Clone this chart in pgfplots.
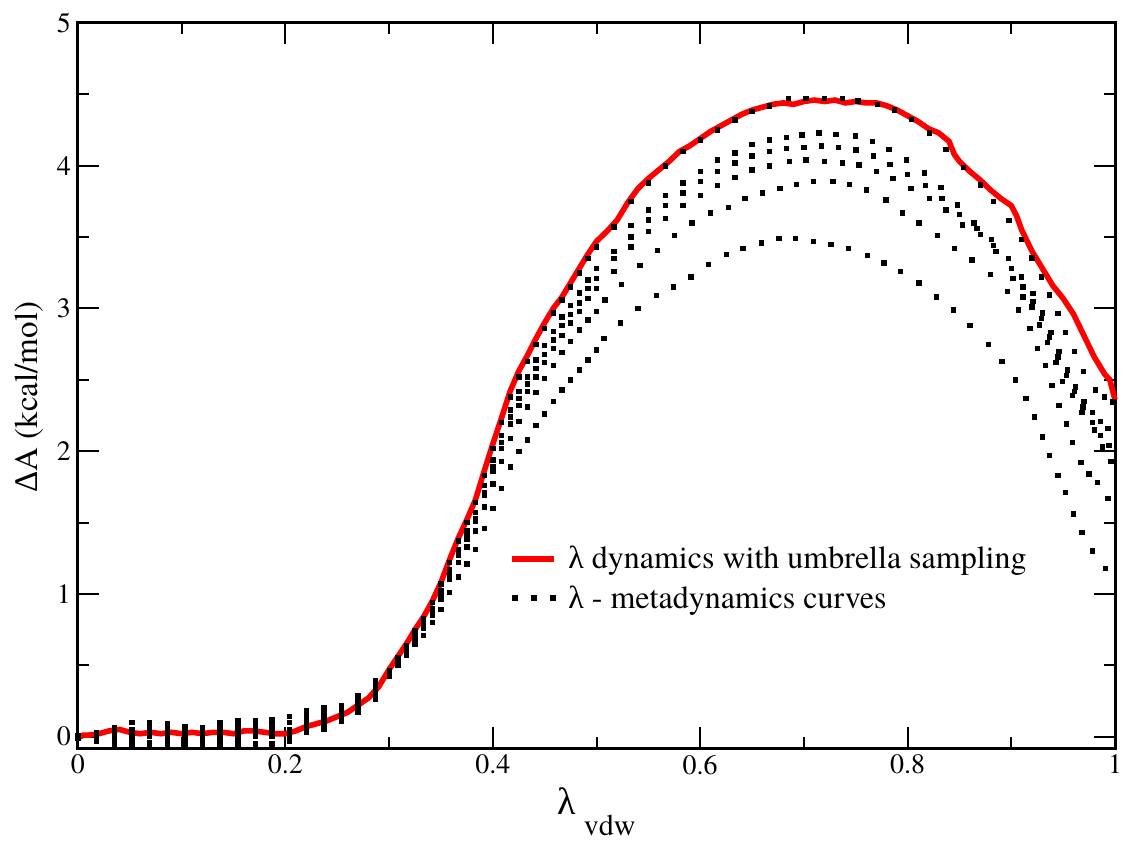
\documentclass[border=0pt]{standalone}
\usepackage{fontspec}
\IfFontExistsTF{TeX Gyre Termes}{\setmainfont{TeX Gyre Termes}}{\setmainfont{Liberation Serif}}
\newfontfamily\greek{Liberation Serif}
\usepackage{pgfplots}
\pgfplotsset{compat=1.18}
\begin{document}
\begin{tikzpicture}
\useasboundingbox (-39pt,-46pt) rectangle (522.5pt,374pt);
\begin{axis}[
 scale only axis, width=518.5pt, height=362.5pt,
 xmin=0, xmax=1, ymin=-0.08, ymax=5,
 xtick={0,0.2,0.4,0.6,0.8,1}, ytick={0,1,2,3,4,5},
 minor x tick num=1, minor y tick num=1,
 tick align=inside, major tick length=10.5pt, minor tick length=5.5pt,
 axis line style={line width=1.5pt},
 tick style={black, line width=1pt},
 /pgf/number format/assume math mode=true,
 ticklabel style={font=\fontsize{14}{14}\selectfont},
 clip=false,
 ylabel={{\greek Δ}A (kcal/mol)},
 ylabel style={at={(axis description cs:-0.0395,0.484)}, anchor=base, font=\fontsize{16.5}{16.5}\selectfont},
 xlabel={\fontsize{19}{19}\selectfont {\greek λ}\hspace{4pt}\raisebox{-10.5pt}{\fontsize{15}{15}\selectfont vdw}},
 xlabel style={at={(axis description cs:0.5,-0.0924)}, anchor=base},
 legend style={draw=none, fill=none, at={(rel axis cs:0.410,0.290)}, anchor=north west,
   font=\fontsize{16}{19}\selectfont, row sep=2.9pt},
 legend cell align=left,
 mscat/.style={only marks, mark=square*, mark size=1.1pt, black, mark options={fill=black}},
]
\addplot[red, line width=2.8pt, mark=none,
 legend image code/.code={\draw[red, line width=2.8pt] (0pt,0pt) -- (21pt,0pt); \path[draw=none] (0pt,0pt) -- (26pt,0pt);}] coordinates {
(0.000,-0.01)(0.005,0.01)(0.010,0.01)(0.020,0.02)(0.030,0.04)(0.040,0.05)(0.050,0.03)(0.060,0.02)
(0.070,0.03)(0.080,0.02)(0.090,0.03)(0.100,0.02)(0.110,0.03)(0.120,0.02)(0.130,0.03)(0.140,0.03)
(0.150,0.02)(0.160,0.04)(0.170,0.04)(0.180,0.03)(0.190,0.02)(0.200,0.02)(0.210,0.04)(0.220,0.07)
(0.230,0.09)(0.240,0.11)(0.250,0.14)(0.260,0.17)(0.270,0.22)(0.280,0.27)(0.290,0.35)(0.300,0.47)
(0.3083,0.56)(0.3167,0.65)(0.3250,0.75)(0.3333,0.84)(0.3417,0.95)(0.3500,1.08)(0.3583,1.24)
(0.3667,1.39)(0.3750,1.52)(0.3833,1.66)(0.3917,1.86)(0.4000,2.05)(0.4083,2.23)(0.4167,2.42)
(0.4250,2.56)(0.4333,2.67)(0.4417,2.79)(0.4500,2.90)(0.4583,3.00)(0.4667,3.08)(0.4750,3.18)
(0.4833,3.28)(0.4917,3.38)(0.5000,3.47)(0.51,3.54)(0.52,3.62)(0.53,3.74)(0.54,3.84)(0.55,3.91)
(0.56,3.97)(0.57,4.03)(0.58,4.10)(0.59,4.14)(0.60,4.19)(0.61,4.24)(0.62,4.28)(0.63,4.32)(0.64,4.36)
(0.65,4.39)(0.66,4.41)(0.67,4.43)(0.68,4.44)(0.69,4.43)(0.70,4.45)(0.71,4.46)(0.72,4.45)(0.73,4.46)
(0.74,4.44)(0.75,4.45)(0.76,4.44)(0.77,4.44)(0.78,4.42)(0.79,4.39)(0.80,4.35)(0.81,4.31)(0.82,4.26)
(0.83,4.23)(0.84,4.17)(0.845,4.08)(0.85,4.03)(0.86,3.96)(0.87,3.90)(0.88,3.83)(0.89,3.77)(0.90,3.72)
(0.905,3.65)(0.91,3.55)(0.92,3.40)(0.93,3.28)(0.94,3.16)(0.95,3.07)(0.96,2.96)(0.97,2.81)(0.98,2.66)
(0.99,2.54)(0.995,2.50)(1.0,2.36)
};
\addlegendentry{{\greek λ} dynamics with umbrella sampling}
\addplot[mscat,
 legend image code/.code={\fill[black] (0pt,-1.3pt) rectangle (2.6pt,1.3pt); \fill[black] (9.5pt,-1.3pt) rectangle (12.1pt,1.3pt); \fill[black] (19pt,-1.3pt) rectangle (21.6pt,1.3pt); \path[draw=none] (0pt,0pt) -- (26pt,0pt);}] coordinates {
(0,0.00)(0.018,0.02)(0.035,0.03)(0.052,0.02)(0.069,0.03)(0.086,0.01)(0.103,0.02)(0.120,0.03)(0.137,0.02)
(0.154,0.03)(0.171,0.03)(0.187,0.04)(0.204,0.02)(0.220,0.06)(0.237,0.10)(0.254,0.15)(0.270,0.21)(0.287,0.30)
(0.3000,0.46)(0.3083,0.55)(0.3167,0.64)(0.3250,0.74)(0.3333,0.83)(0.3417,0.94)(0.3500,1.07)(0.3583,1.22)
(0.3667,1.37)(0.3750,1.50)(0.3833,1.64)(0.3917,1.83)(0.4000,2.02)(0.4083,2.20)(0.4167,2.38)(0.4250,2.52)
(0.4333,2.63)(0.4417,2.75)(0.4500,2.86)(0.4583,2.97)(0.4667,3.06)(0.4750,3.15)(0.4833,3.25)(0.4917,3.35)
(0.5000,3.43)(0.5167,3.57)(0.5333,3.75)(0.5500,3.88)(0.5667,4.00)(0.5833,4.10)(0.6000,4.18)(0.6167,4.25)
(0.6333,4.32)(0.6500,4.38)(0.6667,4.42)(0.6853,4.47)
(0.702,4.47)(0.720,4.47)(0.737,4.47)(0.752,4.455)(0.771,4.43)(0.787,4.39)(0.8035,4.325)(0.821,4.23)
(0.837,4.115)(0.854,3.99)(0.870,3.865)(0.883,3.75)(0.8976,3.615)(0.9095,3.485)(0.920,3.355)(0.929,3.22)
(0.937,3.095)(0.945,2.965)(0.952,2.83)(0.9606,2.70)(0.9696,2.56)(0.981,2.43)(0.990,2.38)(0.998,2.345)
};
\addlegendentry{{\greek λ} - metadynamics curves}
\addplot[mscat, forget plot] coordinates {
(0,0.01)(0.018,-0.03)(0.035,0.06)(0.052,0.10)(0.069,-0.07)(0.086,0.09)(0.103,-0.07)(0.120,0.06)(0.137,-0.05)
(0.154,0.11)(0.171,0.00)(0.187,0.12)(0.204,-0.03)(0.220,0.18)(0.237,0.05)(0.254,0.22)(0.270,0.17)(0.287,0.39)
(0.3000,0.44)(0.3083,0.53)(0.3167,0.61)(0.3250,0.71)(0.3333,0.79)(0.3417,0.90)(0.3500,1.02)(0.3583,1.17)
(0.3667,1.31)(0.3750,1.44)(0.3833,1.57)(0.3917,1.76)(0.4000,1.94)(0.4083,2.11)(0.4167,2.29)(0.4250,2.42)
(0.4333,2.52)(0.4417,2.64)(0.4500,2.74)(0.4583,2.84)(0.4667,2.94)(0.4750,3.02)(0.4833,3.11)(0.4917,3.20)
(0.5000,3.28)(0.5167,3.40)(0.5333,3.58)(0.5500,3.69)(0.5667,3.79)(0.5833,3.88)(0.6000,3.96)(0.6167,4.04)
(0.6333,4.09)(0.6500,4.15)(0.6667,4.18)(0.6833,4.20)
(0.698,4.215)(0.7145,4.23)(0.731,4.22)(0.7496,4.21)(0.766,4.17)(0.782,4.115)(0.799,4.04)(0.816,3.95)
(0.832,3.85)(0.848,3.725)(0.864,3.60)(0.881,3.485)(0.897,3.35)(0.9095,3.22)(0.921,3.105)(0.930,2.97)
(0.938,2.83)(0.946,2.70)(0.954,2.57)(0.962,2.45)(0.970,2.35)(0.978,2.27)(0.986,2.21)(0.993,2.16)
};
\addplot[mscat, forget plot] coordinates {
(0,-0.01)(0.018,0.03)(0.035,-0.05)(0.052,-0.07)(0.069,0.10)(0.086,-0.07)(0.103,0.07)(0.120,-0.07)(0.137,0.10)
(0.154,-0.05)(0.171,0.11)(0.187,-0.05)(0.204,0.14)(0.220,0.03)(0.237,0.20)(0.254,0.11)(0.270,0.29)(0.287,0.26)
(0.3000,0.43)(0.3083,0.52)(0.3167,0.61)(0.3250,0.70)(0.3333,0.78)(0.3417,0.89)(0.3500,1.00)(0.3583,1.15)
(0.3667,1.29)(0.3750,1.40)(0.3833,1.53)(0.3917,1.71)(0.4000,1.89)(0.4083,2.06)(0.4167,2.24)(0.4250,2.37)
(0.4333,2.47)(0.4417,2.58)(0.4500,2.68)(0.4583,2.78)(0.4667,2.88)(0.4750,2.96)(0.4833,3.04)(0.4917,3.14)
(0.5000,3.21)(0.5167,3.35)(0.5333,3.50)(0.5500,3.62)(0.5667,3.72)(0.5833,3.81)(0.6000,3.89)(0.6167,3.96)
(0.6333,4.02)(0.6500,4.07)(0.6667,4.10)(0.6833,4.12)
(0.700,4.13)(0.717,4.14)(0.733,4.13)(0.750,4.11)(0.767,4.07)(0.783,4.01)(0.800,3.94)(0.817,3.86)
(0.833,3.77)(0.850,3.66)(0.867,3.56)(0.883,3.44)(0.900,3.28)(0.911,3.15)(0.921,3.05)(0.929,2.93)
(0.937,2.80)(0.945,2.66)(0.953,2.53)(0.961,2.42)(0.969,2.31)(0.978,2.20)(0.986,2.11)(0.994,2.04)
};
\addplot[mscat, forget plot] coordinates {
(0,0.00)(0.018,0.00)(0.035,0.00)(0.052,0.05)(0.069,-0.04)(0.086,0.05)(0.103,0.04)(0.120,0.00)(0.137,0.05)
(0.154,0.07)(0.171,-0.05)(0.187,0.09)(0.204,0.05)(0.220,0.13)(0.237,0.08)(0.254,0.19)(0.270,0.24)(0.287,0.34)
(0.3000,0.45)(0.3083,0.53)(0.3167,0.61)(0.3250,0.70)(0.3333,0.78)(0.3417,0.88)(0.3500,1.00)(0.3583,1.14)
(0.3667,1.27)(0.3750,1.38)(0.3833,1.51)(0.3917,1.69)(0.4000,1.86)(0.4083,2.02)(0.4167,2.19)(0.4250,2.32)
(0.4333,2.42)(0.4417,2.52)(0.4500,2.62)(0.4583,2.72)(0.4667,2.81)(0.4750,2.90)(0.4833,2.98)(0.4917,3.07)
(0.5000,3.14)(0.5167,3.26)(0.5333,3.43)(0.5500,3.54)(0.5667,3.63)(0.5833,3.72)(0.6000,3.79)(0.6167,3.86)
(0.6333,3.92)(0.6500,3.97)(0.6667,4.00)
(0.686,4.03)(0.702,4.04)(0.720,4.03)(0.737,4.02)(0.753,4.005)(0.770,3.96)(0.786,3.91)(0.803,3.84)
(0.821,3.77)(0.837,3.69)(0.853,3.585)(0.870,3.52)(0.885,3.40)(0.9015,3.21)(0.911,3.08)(0.920,3.01)
(0.927,2.885)(0.935,2.76)(0.943,2.62)(0.949,2.49)(0.959,2.39)(0.968,2.27)(0.980,2.15)(0.988,2.03)(0.996,1.93)
};
\addplot[mscat, forget plot] coordinates {
(0,0.01)(0.018,-0.01)(0.035,0.04)(0.052,-0.03)(0.069,0.06)(0.086,-0.03)(0.103,-0.03)(0.120,-0.03)(0.137,-0.02)
(0.154,-0.01)(0.171,0.06)(0.187,0.00)(0.204,0.10)(0.220,0.09)(0.237,0.16)(0.254,0.13)(0.270,0.19)(0.287,0.28)
(0.3000,0.44)(0.3083,0.52)(0.3167,0.60)(0.3250,0.68)(0.3333,0.76)(0.3417,0.85)(0.3500,0.96)(0.3583,1.10)
(0.3667,1.22)(0.3750,1.33)(0.3833,1.44)(0.3917,1.61)(0.4000,1.77)(0.4083,1.93)(0.4167,2.09)(0.4250,2.21)
(0.4333,2.31)(0.4417,2.41)(0.4500,2.51)(0.4583,2.60)(0.4667,2.69)(0.4750,2.77)(0.4833,2.85)(0.4917,2.92)
(0.5000,2.98)(0.508,3.06)(0.524,3.17)(0.542,3.30)(0.559,3.405)(0.575,3.51)(0.592,3.60)(0.610,3.67)
(0.627,3.71)(0.643,3.77)(0.660,3.81)(0.677,3.84)(0.693,3.87)
(0.709,3.89)(0.728,3.89)(0.744,3.87)(0.760,3.83)(0.779,3.76)(0.795,3.67)(0.811,3.60)(0.829,3.51)
(0.845,3.42)(0.862,3.34)(0.880,3.24)(0.896,3.12)(0.907,2.99)(0.918,2.86)(0.925,2.72)(0.933,2.60)
(0.939,2.46)(0.946,2.32)(0.953,2.19)(0.959,2.06)(0.967,1.92)(0.975,1.84)(0.983,1.78)(0.993,1.67)
};
\addplot[mscat, forget plot] coordinates {
(0,0.00)(0.018,0.01)(0.035,-0.02)(0.052,0.00)(0.069,0.00)(0.086,0.03)(0.103,0.00)(0.120,0.04)(0.137,0.07)
(0.154,0.05)(0.171,0.09)(0.187,0.06)(0.204,0.00)(0.220,0.15)(0.237,0.13)(0.254,0.17)(0.270,0.26)(0.287,0.36)
(0.3000,0.42)(0.3083,0.50)(0.3167,0.57)(0.3250,0.65)(0.3333,0.71)(0.3417,0.80)(0.3500,0.89)(0.3583,1.01)
(0.3667,1.12)(0.3750,1.21)(0.3833,1.31)(0.3917,1.46)(0.4000,1.60)(0.4083,1.74)(0.4167,1.89)(0.4250,2.00)
(0.4333,2.08)(0.4417,2.18)(0.4500,2.26)(0.4583,2.35)(0.4667,2.43)(0.4750,2.50)(0.4833,2.57)(0.4917,2.64)
(0.5000,2.71)(0.507,2.79)(0.523,2.90)(0.540,3.00)(0.558,3.09)(0.574,3.15)(0.591,3.22)(0.608,3.31)
(0.625,3.38)(0.641,3.42)(0.659,3.46)(0.676,3.49)
(0.692,3.49)(0.709,3.47)(0.726,3.45)(0.743,3.42)(0.761,3.37)(0.777,3.32)(0.793,3.26)(0.811,3.18)
(0.828,3.08)(0.844,2.99)(0.860,2.88)(0.878,2.75)(0.891,2.63)(0.904,2.50)(0.914,2.37)(0.922,2.24)
(0.930,2.10)(0.937,1.97)(0.945,1.83)(0.952,1.71)(0.960,1.56)(0.968,1.43)(0.978,1.30)(0.991,1.18)
};
\end{axis}
\end{tikzpicture}
\end{document}
